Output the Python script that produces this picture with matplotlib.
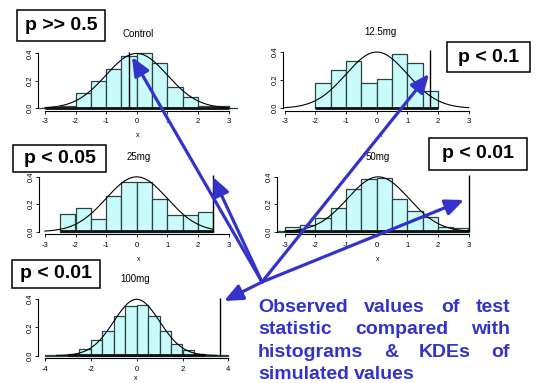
import numpy as np
import matplotlib
matplotlib.use("Agg")
import matplotlib.pyplot as plt
from matplotlib.patches import Rectangle, FancyArrowPatch

plt.rcParams['font.family'] = ['Liberation Sans', 'DejaVu Sans']

W, H = 540, 383
BLUE = '#3333cc'

# --- data ---
panel_names = ["Control", "12.5mg", "25mg", "50mg", "100mg"]
bin_width = 0.5
bin_starts = [-3.5, -2.0, -2.5, -3.5, -4.0]
control_heights = [0.005, 0.012, 0.018, 0.109, 0.2, 0.286, 0.38, 0.40, 0.332, 0.157, 0.085, 0.019, 0.014, 0.005]
mg12_heights = [0.18, 0.275, 0.336, 0.176, 0.21, 0.384, 0.318, 0.122]
mg25_heights = [0.13, 0.17, 0.095, 0.258, 0.365, 0.365, 0.24, 0.125, 0.125, 0.142]
mg50_heights = [0.005, 0.036, 0.048, 0.097, 0.17, 0.31, 0.38, 0.393, 0.24, 0.149, 0.107, 0.034, 0.027]
mg100_heights = [0.004, 0.003, 0.009, 0.047, 0.11, 0.172, 0.278, 0.348, 0.358, 0.28, 0.176, 0.083, 0.04, 0.014, 0.005, 0.003]
all_heights = [control_heights, mg12_heights, mg25_heights, mg50_heights, mg100_heights]

observed = [-0.25, 1.75, 2.5, 3.0, 3.64]
curve_mean = [0.0, 0.0, 0.0, 0.05, 0.0]
curve_sd = [1.0, 1.0, 1.0, 1.0, 1.0]
curve_range = [(-3, 3), (-3, 3), (-3, 2.5), (-3, 3), (-3.5, 3.5)]
x_ticks = [[-3, -2, -1, 0, 1, 2, 3]] * 4 + [[-4, -2, 0, 2, 4]]
y_ticks = [0.0, 0.2, 0.4]

p_labels = ["p >> 0.5", "p < 0.1", "p < 0.05", "p < 0.01", "p < 0.01"]
note_lines = [["Observed", "values", "of", "test"],
              ["statistic", "compared", "with"],
              ["histograms", "&", "KDEs", "of"],
              ["simulated", "values"]]

# --- layout in pixels (from top-left) ---
# x pixel of data 0, px per unit, y pixel of density 0, px per unit, y-axis pixel, right limit, xlabel pad
panel_geom = [(136.7, 30.6, 108.3, 137.5, 38.3, 3.3, 5),
              (376.7, 30.7, 108.3, 141.0, 283.3, 3.3, 5),
              (136.7, 30.6, 231.7, 137.5, 39.3, 3.3, 5),
              (376.7, 30.6, 231.7, 137.5, 277.3, 3.3, 5),
              (136.7, 22.9, 355.5, 141.0, 38.3, 4.2, 2)]
p_boxes = [(17, 10, 88, 31), (447, 42, 83, 30), (13, 145, 93, 27),
           (429, 138, 98, 32), (12, 260, 88, 28)]
arrow_origin = (262, 282)
arrow_tips = [(132, 57), (429, 74), (213, 177), (464, 200), (224, 301)]


def fx(x):
    return x / W


def fy(y):
    return 1 - y / H


fig = plt.figure(figsize=(W / 100, H / 100), dpi=100)

for i, name in enumerate(panel_names):
    x0, sx, y0, sy, yax, xright, xpad = panel_geom[i]
    xlim = ((yax - x0) / sx, xright)
    ylim = (-2.4 / sy, 0.42)
    left = x0 + xlim[0] * sx
    right = x0 + xlim[1] * sx
    bottom = y0 - ylim[0] * sy
    top = y0 - ylim[1] * sy
    ax = fig.add_axes([fx(left), fy(bottom), (right - left) / W, (bottom - top) / H])
    ax.set_xlim(xlim)
    ax.set_ylim(ylim)
    ax.patch.set_visible(False)

    heights = all_heights[i]
    edges = bin_starts[i] + bin_width * np.arange(len(heights))
    ax.bar(edges, heights, width=bin_width, align='edge', color='#c9fbfb',
           edgecolor='#2a4444', linewidth=0.9, clip_on=True)

    # rug of simulated values
    nz = [e for e, h in zip(edges, heights) if h > 0.008]
    ax.plot([min(nz), max(nz) + bin_width], [0.004, 0.004], color='#111111', lw=2.0,
            solid_capstyle='butt', clip_on=True)

    lo, hi = curve_range[i]
    xs = np.linspace(lo, hi, 200)
    ys = np.exp(-0.5 * ((xs - curve_mean[i]) / curve_sd[i]) ** 2) / (curve_sd[i] * np.sqrt(2 * np.pi))
    ax.plot(xs, ys, color='black', lw=0.8)

    ax.vlines(observed[i], 0, 0.41, color='black', lw=1.0)

    for s in ['top', 'right']:
        ax.spines[s].set_visible(False)
    ax.spines['left'].set_bounds(0, 0.4)
    ax.spines['bottom'].set_bounds(x_ticks[i][0], x_ticks[i][-1])
    for s in ['left', 'bottom']:
        ax.spines[s].set_linewidth(0.8)
    ax.set_xticks(x_ticks[i])
    ax.set_xticklabels([str(t) for t in x_ticks[i]])
    ax.set_yticks(y_ticks)
    ax.set_yticklabels(["%.1f" % t for t in y_ticks], rotation=90, va='center')
    ax.tick_params(direction='out', length=2.5, width=0.6, labelsize=5.5)
    ax.tick_params(axis='x', pad=3.0)
    ax.tick_params(axis='y', pad=1.0)
    ax.set_xlabel("x", fontsize=5, labelpad=xpad)
    ax.set_title(name, fontsize=7, pad=10)

# p-value boxes
for lab, (bx, by, bw, bh) in zip(p_labels, p_boxes):
    fig.add_artist(Rectangle((fx(bx), fy(by + bh)), bw / W, bh / H, transform=fig.transFigure,
                             facecolor='white', edgecolor='black', lw=1.1, zorder=5))
    fig.text(fx(bx + bw / 2), fy(by + bh / 2), lab, ha='center', va='center',
             fontsize=14, fontweight='bold', zorder=6)

# arrows from the note to each observed line
for tx, ty in arrow_tips:
    fig.add_artist(FancyArrowPatch((fx(arrow_origin[0]), fy(arrow_origin[1])), (fx(tx), fy(ty)),
                                   transform=fig.transFigure, arrowstyle='-|>,head_length=0.8,head_width=0.35',
                                   mutation_scale=14, color=BLUE, lw=2.3, shrinkA=0, shrinkB=0, zorder=8))

# justified blue note
note_left, note_right = 258, 510
baselines = [311.7, 334.2, 356.7, 379.2]
renderer = fig.canvas.get_renderer()
for words, base in zip(note_lines, baselines):
    texts = [fig.text(0, fy(base), w, fontsize=14, fontweight='bold', color=BLUE, va='baseline')
             for w in words]
    widths = [t.get_window_extent(renderer).width for t in texts]
    if words is note_lines[-1]:
        space = texts[0].get_fontsize() * 0.278 * 100 / 72
    else:
        space = (note_right - note_left - sum(widths)) / (len(words) - 1)
    x = note_left
    for t, w in zip(texts, widths):
        t.set_x(fx(x))
        x += w + space

fig.savefig("out.png", dpi=100)
